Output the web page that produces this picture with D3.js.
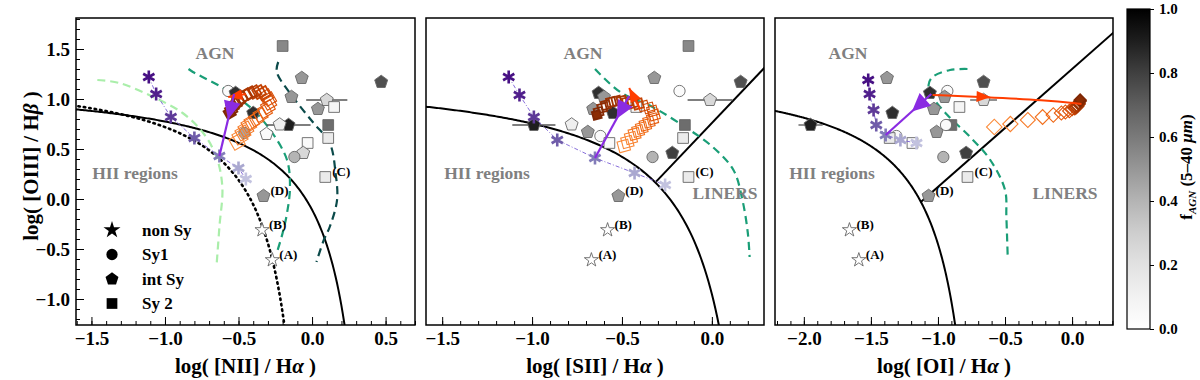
<!DOCTYPE html>
<html>
<head>
<meta charset="utf-8">
<title>BPT diagrams</title>
<script src="https://d3js.org/d3.v7.min.js"></script>
<style>
  body { margin: 0; background: #fff; }
  text { font-family: "Liberation Serif", "DejaVu Serif", serif; font-weight: bold; }
</style>
</head>
<body>
<div id="chart"></div>
<script>
// ---- tick labels ----
var yTicks = [-1.0, -0.5, 0.0, 0.5, 1.0, 1.5];
var niiTicks = [-1.5, -1.0, -0.5, 0.0, 0.5];
var siiTicks = [-1.5, -1.0, -0.5, 0.0];
var oiTicks = [-2.0, -1.5, -1.0, -0.5, 0.0];
var cbTicks = [0.0, 0.2, 0.4, 0.6, 0.8, 1.0];

// ---- observed galaxies (same log([OIII]/Hb) in every panel) ----
var galType = ["Sy2","int","int","Sy1","int","int","int","Sy2","int","int","int","int","Sy2","Sy1","Sy1","int","int","Sy1","Sy2","Sy2","int","int","Sy1","Sy2","int","non","non"];
var galF    = [0.55,0.50,0.75,0.03,0.85,0.50,0.25,0.08,0.50,0.85,0.90,0.12,0.65,0.04,0.45,0.04,0.50,0.04,0.15,0.04,0.25,0.80,0.40,0.15,0.50,0.0,0.0];
var galY    = [1.53,1.21,1.17,1.08,1.06,1.02,0.99,0.92,0.90,0.86,0.74,0.745,0.74,0.74,0.66,0.65,0.67,0.63,0.61,0.56,0.46,0.46,0.42,0.22,0.03,-0.31,-0.61];
var galNII  = [-0.20,-0.07,0.47,-0.57,-0.52,-0.14,0.10,0.15,0.04,-0.40,-0.16,-0.22,0.11,null,-0.46,-0.31,null,null,0.11,-0.03,-0.06,null,-0.12,0.09,-0.33,-0.34,-0.27];
var galSII  = [-0.13,-0.32,0.16,-0.18,-0.63,-0.60,-0.01,-0.42,-0.66,-0.55,-0.99,-0.78,-0.15,null,null,null,-0.69,-0.62,-0.16,-0.57,null,-0.22,-0.33,-0.13,-0.52,-0.58,-0.67];
var galOI   = [null,-1.38,-0.66,-0.93,-1.06,-0.95,-0.66,-0.84,-1.03,-1.34,-1.95,null,-0.90,-0.94,null,null,-1.01,-1.31,-1.36,-1.19,null,-0.79,-0.96,-0.78,-1.07,-1.66,-1.59];
var errNII  = [0,0,0,0,0,0,0.14,0,0,0,0.15,0,0,0,0,0,0,0,0,0,0,0,0,0,0,0,0];
var errSII  = [0,0,0,0,0,0,0.125,0,0,0,0.12,0,0,0,0,0,0,0,0,0,0,0,0,0,0,0,0];
var errOI   = [0,0,0,0,0,0,0.10,0,0,0,0.09,0,0,0,0,0,0,0,0,0,0,0,0,0,0,0,0];
var galLabel = ["","","","","","","","","","","","","","","","","","","","","","","","(C)","(D)","(B)","(A)"];

// ---- purple model sequence (asterisks) ----
var starNIIx = [-1.11,-1.06,-0.96,-0.80,-0.63,-0.50,-0.45];
var starNIIy = [1.22,1.05,0.82,0.61,0.43,0.31,0.20];
var starSIIx = [-1.13,-1.07,-0.99,-0.86,-0.65,-0.43,-0.26];
var starSIIy = [1.22,1.04,0.82,0.59,0.41,0.26,0.14];
var starOIx  = [-1.52,-1.51,-1.48,-1.46,-1.39,-1.28,-1.16];
var starOIy  = [1.19,1.05,0.89,0.74,0.64,0.59,0.56];
var starShade = [0.95,0.90,0.82,0.72,0.62,0.45,0.35];

// ---- purple arrow end points ----
var purpleEndX = [-0.53, -0.46, -1.05];
var purpleEndY = [1.05, 1.03, 1.05];

// ---- orange model sequence (squares) ----
var orNIIx = [-0.51,-0.49,-0.47,-0.45,-0.43,-0.41,-0.38,-0.35,-0.32,-0.30,-0.29,-0.29,-0.31,-0.33,-0.36,-0.39,-0.42,-0.45,-0.48,-0.50,-0.52,-0.54,-0.55,-0.56];
var orNIIy = [0.57,0.62,0.66,0.70,0.74,0.77,0.80,0.84,0.88,0.92,0.96,1.00,1.03,1.06,1.07,1.07,1.06,1.04,1.01,0.98,0.95,0.92,0.89,0.86];
var orSIIx = [-0.49,-0.47,-0.45,-0.43,-0.41,-0.39,-0.37,-0.35,-0.33,-0.32,-0.33,-0.35,-0.38,-0.41,-0.44,-0.47,-0.50,-0.53,-0.56,-0.59,-0.61,-0.63,-0.64];
var orSIIy = [0.53,0.57,0.61,0.65,0.68,0.71,0.74,0.77,0.80,0.84,0.88,0.91,0.93,0.95,0.96,0.97,0.98,0.98,0.97,0.94,0.91,0.87,0.84];
var orOIx  = [-0.58,-0.46,-0.33,-0.22,-0.14,-0.08,-0.05,-0.02,0.00,0.02,0.03,0.04,0.05,0.05,0.06,0.06];
var orOIy  = [0.72,0.75,0.79,0.82,0.84,0.86,0.87,0.88,0.90,0.91,0.92,0.93,0.95,0.96,0.98,0.99];

// ---- red arrows ----
var redNIIx = [-0.45,-0.57]; var redNIIy = [1.05,1.02];
var redSIIx = [-0.40,-0.46]; var redSIIy = [0.90,1.11];
var redOIx  = [-1.04,-0.66,-0.20,0.07]; var redOIy = [1.04,1.02,0.99,0.95];

// ---- dashed model curves ----
var lgNIIx = [-1.46,-1.31,-1.08,-0.88,-0.74,-0.65,-0.61,-0.63,-0.65];
var lgNIIy = [1.19,1.16,1.02,0.86,0.66,0.42,0.12,-0.28,-0.68];
var gNIIx = [-0.84,-0.81,-0.58,-0.40,-0.27,-0.17,-0.15,-0.17,-0.20,-0.24];
var gNIIy = [1.30,1.27,1.09,0.89,0.66,0.39,0.12,-0.14,-0.34,-0.54];
var tNIIx = [-0.23,-0.24,-0.13,0.01,0.12,0.16,0.17,0.12,0.08,0.03];
var tNIIy = [1.37,1.27,1.02,0.76,0.56,0.26,-0.01,-0.28,-0.41,-0.63];
var gSIIx = [-0.65,-0.51,-0.33,-0.14,0.005,0.12,0.17,0.20,0.21];
var gSIIy = [1.30,1.07,0.92,0.71,0.52,0.29,-0.01,-0.34,-0.58];
var gOIx = [-0.78,-0.91,-1.04,-1.07,-1.04,-0.93,-0.76,-0.61,-0.50,-0.49,-0.48];
var gOIy = [1.30,1.29,1.22,1.14,1.02,0.84,0.62,0.39,0.09,-0.18,-0.58];

// ---- layout ----
var svg = d3.select("#chart").append("svg").attr("width", 1200).attr("height", 380);
var plotTop = 18, plotBottom = 325;
var y = d3.scaleLinear().domain([-1.26, 1.81]).range([plotBottom, plotTop]);
var fmt = d3.format(".1f");

var panels = [
  { left: 76, right: 415, dom: [-1.605, 0.70], ticks: niiTicks, minor: d3.range(-16, 8).map(function(d){ return d / 10; }),
    gx: galNII, err: errNII, sx: starNIIx, sy: starNIIy, ox: orNIIx, oy: orNIIy, rx: redNIIx, ry: redNIIy, rot: -30, osz: 12,
    line: "[NII]", agn: [215, 53], hii: [135, 173], liner: null },
  { left: 426, right: 764, dom: [-1.59, 0.29], ticks: siiTicks, minor: d3.range(-15, 3).map(function(d){ return d / 10; }),
    gx: galSII, err: errSII, sx: starSIIx, sy: starSIIy, ox: orSIIx, oy: orSIIy, rx: redSIIx, ry: redSIIy, rot: -15, osz: 11,
    line: "[SII]", agn: [583, 53], hii: [487, 173], liner: [725, 193] },
  { left: 775, right: 1113, dom: [-2.215, 0.305], ticks: oiTicks, minor: d3.range(-22, 4).map(function(d){ return d / 10; }),
    gx: galOI, err: errOI, sx: starOIx, sy: starOIy, ox: orOIx, oy: orOIy, rx: redOIx, ry: redOIy, rot: 45, osz: 11,
    line: "[OI]", agn: [848, 53], hii: [832, 173], liner: [1065, 193] }
];

function pentagon(r) {
  var p = d3.range(5).map(function(k) {
    var a = -Math.PI / 2 + k * 2 * Math.PI / 5;
    return [r * Math.cos(a), r * Math.sin(a)];
  });
  return "M" + p.join("L") + "Z";
}
function asterisk(r) {
  var c = r * Math.cos(Math.PI / 6), s = r / 2;
  return "M0," + (-r) + "L0," + r + "M" + (-c) + "," + (-s) + "L" + c + "," + s + "M" + (-c) + "," + s + "L" + c + "," + (-s);
}
function shape(t) {
  if (t === "Sy2") return d3.symbol(d3.symbolSquare, 115)();
  if (t === "Sy1") return d3.symbol(d3.symbolCircle, 100)();
  if (t === "non") return d3.symbol(d3.symbolStar, 62)();
  return pentagon(6.8);
}
// filled triangle with its tip at (tx,ty), pointing along angle a
function triangle(tx, ty, a, len, wid) {
  var bx = tx - len * Math.cos(a), by = ty - len * Math.sin(a);
  var nx = -Math.sin(a) * wid / 2, ny = Math.cos(a) * wid / 2;
  return "M" + tx + "," + ty + "L" + (bx + nx) + "," + (by + ny) + "L" + (bx - nx) + "," + (by - ny) + "Z";
}

panels.forEach(function(p, pi) {
  var x = d3.scaleLinear().domain(p.dom).range([p.left, p.right]);
  var g = svg.append("g");
  var clipId = "clip" + pi;
  svg.append("clipPath").attr("id", clipId).append("rect")
    .attr("x", p.left).attr("y", plotTop).attr("width", p.right - p.left).attr("height", plotBottom - plotTop);
  var plot = g.append("g").attr("clip-path", "url(#" + clipId + ")");

  // axes (ticks inward, left and bottom only)
  g.append("g").attr("transform", "translate(0," + plotBottom + ")")
    .call(d3.axisBottom(x).tickValues(p.minor).tickSize(-4).tickFormat(""))
    .call(function(a){ a.select(".domain").remove(); });
  g.append("g").attr("transform", "translate(0," + plotBottom + ")")
    .call(d3.axisBottom(x).tickValues(p.ticks).tickSize(-8).tickPadding(7).tickFormat(fmt))
    .call(function(a){ a.select(".domain").remove(); a.selectAll("text").attr("font-size", 19).attr("font-family", null); });
  if (pi === 0) {
    g.append("g").attr("transform", "translate(" + p.left + ",0)")
      .call(d3.axisLeft(y).tickValues(d3.range(-12, 19).map(function(d){ return d / 10; })).tickSize(-4).tickFormat(""))
      .call(function(a){ a.select(".domain").remove(); });
    g.append("g").attr("transform", "translate(" + p.left + ",0)")
      .call(d3.axisLeft(y).tickValues(yTicks).tickSize(-8).tickPadding(6).tickFormat(fmt))
      .call(function(a){ a.select(".domain").remove(); a.selectAll("text").attr("font-size", 19).attr("font-family", null); });
  }

  // demarcation lines
  var line = d3.line().x(function(d){ return x(d[0]); }).y(function(d){ return y(d[1]); });
  var kew, sey = null;
  if (pi === 0) {
    kew = d3.range(-1.7, 0.4, 0.01).map(function(v){ return [v, 0.61 / (v - 0.47) + 1.19]; });
    var kau = d3.range(-1.7, 0.02, 0.01).map(function(v){ return [v, 0.61 / (v - 0.05) + 1.3]; });
    plot.append("path").attr("d", line(kau)).attr("fill", "none").attr("stroke", "#000")
      .attr("stroke-width", 2.6).attr("stroke-dasharray", "1.5,4").attr("stroke-linecap", "round");
  } else if (pi === 1) {
    kew = d3.range(-1.7, 0.3, 0.01).map(function(v){ return [v, 0.72 / (v - 0.32) + 1.30]; });
    sey = [[-0.31, 1.89 * -0.31 + 0.76], [0.35, 1.89 * 0.35 + 0.76]];
  } else {
    kew = d3.range(-2.3, -0.6, 0.005).map(function(v){ return [v, 0.73 / (v + 0.59) + 1.33]; });
    sey = [[-1.13, 1.18 * -1.13 + 1.30], [0.4, 1.18 * 0.4 + 1.30]];
  }
  plot.append("path").attr("d", line(kew)).attr("fill", "none").attr("stroke", "#000").attr("stroke-width", 2);
  if (sey) plot.append("path").attr("d", line(sey)).attr("fill", "none").attr("stroke", "#000").attr("stroke-width", 2);

  // dashed model curves
  var cl = d3.line().curve(d3.curveCatmullRom).x(function(d){ return x(d[0]); }).y(function(d){ return y(d[1]); });
  var curves = pi === 0 ? [[lgNIIx, lgNIIy, "#aaeeaa"], [gNIIx, gNIIy, "#1a9e77"], [tNIIx, tNIIy, "#0b4a4a"]]
             : pi === 1 ? [[gSIIx, gSIIy, "#1a9e77"]] : [[gOIx, gOIy, "#1a9e77"]];
  curves.forEach(function(c) {
    plot.append("path").attr("d", cl(d3.zip(c[0], c[1]))).attr("fill", "none")
      .attr("stroke", c[2]).attr("stroke-width", 2.2).attr("stroke-dasharray", "8,5");
  });

  // region labels
  function region(pos, txt) {
    g.append("text").attr("x", pos[0]).attr("y", pos[1]).attr("dy", "0.35em").attr("text-anchor", "middle")
      .attr("font-size", 17.5).attr("fill", "#808080").text(txt);
  }
  region(p.agn, "AGN"); region(p.hii, "HII regions");
  if (p.liner) region(p.liner, "LINERS");

  // error bars
  p.gx.forEach(function(v, i) {
    if (v === null || !p.err[i]) return;
    plot.append("line").attr("x1", x(v - p.err[i])).attr("x2", x(v + p.err[i]))
      .attr("y1", y(galY[i])).attr("y2", y(galY[i])).attr("stroke", "#555").attr("stroke-width", 1.3);
  });

  // galaxies
  p.gx.forEach(function(v, i) {
    if (v === null) return;
    plot.append("path").attr("d", shape(galType[i]))
      .attr("transform", "translate(" + x(v) + "," + y(galY[i]) + ")")
      .attr("fill", d3.interpolateGreys(galF[i])).attr("stroke", "#666").attr("stroke-width", 0.9);
    if (galLabel[i]) {
      g.append("text").attr("x", x(v) + 7).attr("y", y(galY[i]) - 6).attr("dy", "0.35em")
        .attr("font-size", 13).attr("fill", "#000").text(galLabel[i]);
    }
  });

  // orange squares
  var n = p.ox.length;
  p.ox.forEach(function(v, i) {
    var t = i / (n - 1);
    var s = p.osz - 3 * t;
    plot.append("rect").attr("x", -s / 2).attr("y", -s / 2).attr("width", s).attr("height", s)
      .attr("transform", "translate(" + x(v) + "," + y(p.oy[i]) + ") rotate(" + p.rot + ")")
      .attr("fill", i === n - 1 ? "#8c2d04" : "none").attr("stroke", d3.interpolateOranges(0.5 + 0.5 * t))
      .attr("stroke-width", t > 0.55 ? 1.8 : 1.1);
  });

  // red arrow
  var rl = d3.line().curve(d3.curveBasis).x(function(d){ return x(d[0]); }).y(function(d){ return y(d[1]); });
  var rpts = d3.zip(p.rx, p.ry);
  plot.append("path").attr("d", rl(rpts)).attr("fill", "none").attr("stroke", "#ff3d00").attr("stroke-width", 2);
  var ra = rpts.length > 2 ? 1 : rpts.length - 1;
  var r0 = rpts[ra - 1], r1 = rpts[ra];
  var ang = Math.atan2(y(r1[1]) - y(r0[1]), x(r1[0]) - x(r0[0]));
  var tipX = rpts.length > 2 ? x(r1[0]) + 7 : x(r1[0]), tipY = y(r1[1]);
  plot.append("path").attr("d", triangle(tipX, tipY, ang, 14, 11)).attr("fill", "#ff3d00");

  // purple asterisks and thin link
  var sp = d3.zip(p.sx, p.sy);
  plot.append("path").attr("d", line(sp)).attr("fill", "none").attr("stroke", "#7b5fd6")
    .attr("stroke-width", 0.9).attr("stroke-dasharray", "4,2,1,2");
  sp.forEach(function(d, i) {
    plot.append("path").attr("d", asterisk(6.5))
      .attr("transform", "translate(" + x(d[0]) + "," + y(d[1]) + ")")
      .attr("stroke", d3.interpolatePurples(starShade[i])).attr("stroke-width", 2.6).attr("fill", "none");
  });

  // purple arrow from 5th asterisk
  var ps = [x(p.sx[4]), y(p.sy[4])], pe = [x(purpleEndX[pi]), y(purpleEndY[pi])];
  plot.append("line").attr("x1", ps[0]).attr("y1", ps[1]).attr("x2", pe[0]).attr("y2", pe[1])
    .attr("stroke", "#8a2be2").attr("stroke-width", 2.2);
  var pa = Math.atan2(ps[1] - pe[1], ps[0] - pe[0]);
  var bx = pe[0] + 8 * Math.cos(pa), by = pe[1] + 8 * Math.sin(pa);
  plot.append("path").attr("d", triangle(bx + 18 * Math.cos(pa), by + 18 * Math.sin(pa), pa, 18, 17)).attr("fill", "#8a2be2");

  // frame
  g.append("rect").attr("x", p.left).attr("y", plotTop).attr("width", p.right - p.left).attr("height", plotBottom - plotTop)
    .attr("fill", "none").attr("stroke", "#000").attr("stroke-width", 1.5);

  // x label
  var xl = g.append("text").attr("x", (p.left + p.right) / 2).attr("y", 373).attr("text-anchor", "middle").attr("font-size", 21);
  xl.append("tspan").text("log( " + p.line + " / H");
  xl.append("tspan").attr("font-style", "italic").text("α");
  xl.append("tspan").text(" )");
});

// y label
var yl = svg.append("text").attr("transform", "translate(38,166) rotate(-90)").attr("text-anchor", "middle").attr("font-size", 21);
yl.append("tspan").text("log( [OIII] / H");
yl.append("tspan").attr("font-style", "italic").text("β");
yl.append("tspan").text(" )");

// legend
var legTypes = ["non", "Sy1", "int", "Sy2"];
var legNames = ["non Sy", "Sy1", "int Sy", "Sy 2"];
legTypes.forEach(function(t, i) {
  var ly = 230 + i * 24.5;
  svg.append("path").attr("d", t === "non" ? d3.symbol(d3.symbolStar, 90)() : shape(t))
    .attr("transform", "translate(112," + ly + ")").attr("fill", "#000");
  svg.append("text").attr("x", 142).attr("y", ly).attr("dy", "0.35em").attr("font-size", 17).text(legNames[i]);
});

// colorbar
var cb = d3.scaleLinear().domain([0, 1]).range([329, 9]);
var grad = svg.append("defs").append("linearGradient").attr("id", "cbg")
  .attr("x1", 0).attr("y1", 1).attr("x2", 0).attr("y2", 0);
d3.range(0, 1.01, 0.1).forEach(function(t) {
  grad.append("stop").attr("offset", t).attr("stop-color", d3.interpolateGreys(t));
});
svg.append("rect").attr("x", 1127).attr("y", 9).attr("width", 23).attr("height", 320)
  .attr("fill", "url(#cbg)").attr("stroke", "#000").attr("stroke-width", 1.2);
svg.append("g").attr("transform", "translate(1150,0)")
  .call(d3.axisRight(cb).tickValues(cbTicks).tickSize(4).tickPadding(5).tickFormat(fmt))
  .call(function(a){ a.select(".domain").remove(); a.selectAll("text").attr("font-size", 15).attr("font-family", null); });
var cl2 = svg.append("text").attr("transform", "translate(1192,167) rotate(-90)").attr("text-anchor", "middle").attr("font-size", 17);
cl2.append("tspan").text("f");
cl2.append("tspan").attr("font-size", 11).attr("font-style", "italic").attr("dy", 4).text("AGN");
cl2.append("tspan").attr("dy", -4).text(" (5–40 ");
cl2.append("tspan").attr("font-style", "italic").text("μm");
cl2.append("tspan").text(")");
</script>
</body>
</html>
